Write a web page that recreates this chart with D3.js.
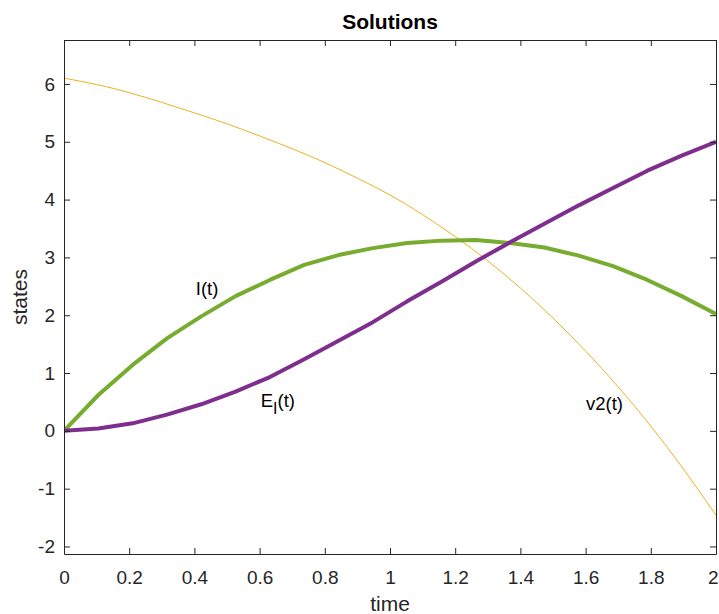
<!DOCTYPE html>
<html><head><meta charset="utf-8">
<script src="https://cdn.jsdelivr.net/npm/d3@7"></script>
<style>body{margin:0;background:#fff}text{font-family:"Liberation Sans",Arial,Helvetica,sans-serif}</style>
</head><body>
<svg id="c" width="719" height="614"></svg>
<script>
// ---- data ----
const tCoarse = d3.range(20).map(i => i * 2 / 19);
const iValues = [0, 0.62, 1.14, 1.60, 1.98, 2.33, 2.61, 2.87, 3.04, 3.16, 3.25, 3.29, 3.30, 3.25, 3.17, 3.03, 2.85, 2.61, 2.33, 2.02];
const eValues = [0, 0.04, 0.13, 0.28, 0.46, 0.68, 0.93, 1.24, 1.56, 1.88, 2.24, 2.58, 2.93, 3.26, 3.58, 3.90, 4.20, 4.50, 4.76, 5.00];
const tFine = [0, 0.1, 0.2, 0.3, 0.4, 0.5, 0.6, 0.7, 0.8, 0.9, 1.0, 1.1, 1.2, 1.3, 1.4, 1.5, 1.6, 1.7, 1.8, 1.9, 2.0];
const v2Values = [6.10, 5.99, 5.85, 5.68, 5.50, 5.31, 5.10, 4.88, 4.64, 4.37, 4.08, 3.74, 3.36, 2.94, 2.47, 1.95, 1.38, 0.76, 0.08, -0.66, -1.46];
const xTicks = [0, 0.2, 0.4, 0.6, 0.8, 1, 1.2, 1.4, 1.6, 1.8, 2];
const yTicks = [-2, -1, 0, 1, 2, 3, 4, 5, 6];
const labels = [
  {t: 0.439, v: 2.35, text: "I(t)"},
  {t: 0.656, v: 0.41, text: "E", sub: "I", after: "(t)"},
  {t: 1.658, v: 0.36, text: "v2(t)"}
];

// ---- chart ----
const svg = d3.select("#c");
const L = 64, R = 716, T = 40, B = 554;
const x = d3.scaleLinear().domain([0, 2]).range([L, R]);
const y = d3.scaleLinear().domain([-2.13, 6.76]).range([B, T]);
const axisCol = "#262626";

svg.append("clipPath").attr("id", "clip").append("rect")
  .attr("x", L).attr("y", T).attr("width", R - L).attr("height", B - T);
const plot = svg.append("g").attr("clip-path", "url(#clip)");

const smooth = d3.line().x(d => x(d[0])).y(d => y(d[1])).curve(d3.curveNatural);
const lin = d3.line().x(d => x(d[0])).y(d => y(d[1]));

plot.append("path").datum(tFine.map((t, i) => [t, v2Values[i]]))
  .attr("d", smooth).attr("fill", "none")
  .attr("stroke", "#EDB120").attr("stroke-width", 1);
plot.append("path").datum(tCoarse.map((t, i) => [t, iValues[i]]))
  .attr("d", lin).attr("fill", "none").attr("stroke", "#77AC30")
  .attr("stroke-width", 4).attr("stroke-linejoin", "round");
plot.append("path").datum(tCoarse.map((t, i) => [t, eValues[i]]))
  .attr("d", lin).attr("fill", "none").attr("stroke", "#7E2F8E")
  .attr("stroke-width", 4).attr("stroke-linejoin", "round");

// axes
const fmt = d => String(d);
const xb = svg.append("g").attr("transform", `translate(0,${B})`)
  .call(d3.axisBottom(x).tickValues(xTicks).tickFormat(fmt).tickSizeInner(-6).tickSizeOuter(0).tickPadding(17));
const xt = svg.append("g").attr("transform", `translate(0,${T})`)
  .call(d3.axisTop(x).tickValues(xTicks).tickFormat("").tickSizeInner(-6).tickSizeOuter(0));
const yl = svg.append("g").attr("transform", `translate(${L},0)`)
  .call(d3.axisLeft(y).tickValues(yTicks).tickFormat(fmt).tickSizeInner(-6).tickSizeOuter(0).tickPadding(9));
const yr = svg.append("g").attr("transform", `translate(${R},0)`)
  .call(d3.axisRight(y).tickValues(yTicks).tickFormat("").tickSizeInner(-6).tickSizeOuter(0));
[xb, xt, yl, yr].forEach(a => {
  a.selectAll("path").attr("stroke", axisCol).attr("stroke-width", 1);
  a.selectAll("line").attr("stroke", axisCol);
  a.selectAll("text").attr("fill", "#262626").style("font-size", "19px");
});
xb.selectAll(".tick text").filter(d => d === 2).attr("text-anchor", "end").attr("dx", 2);

// title & axis labels
svg.append("text").attr("x", (L + R) / 2).attr("y", 29).attr("text-anchor", "middle")
  .style("font-size", "21px").style("font-weight", "bold").text("Solutions");
svg.append("text").attr("x", (L + R) / 2).attr("y", 611).attr("text-anchor", "middle")
  .style("font-size", "21px").attr("fill", "#262626").text("time");
svg.append("text").attr("transform", `translate(27,${(T + B) / 2}) rotate(-90)`)
  .attr("text-anchor", "middle").style("font-size", "21px").attr("fill", "#262626").text("states");

// curve labels
labels.forEach(l => {
  const tx = svg.append("text").attr("x", x(l.t)).attr("y", y(l.v))
    .attr("text-anchor", "middle").style("font-size", "18.5px");
  tx.append("tspan").text(l.text);
  if (l.sub) {
    tx.append("tspan").attr("dy", 7).style("font-size", "16px").text(l.sub);
    tx.append("tspan").attr("dy", -7).text(l.after);
  }
});
</script>
</body></html>
